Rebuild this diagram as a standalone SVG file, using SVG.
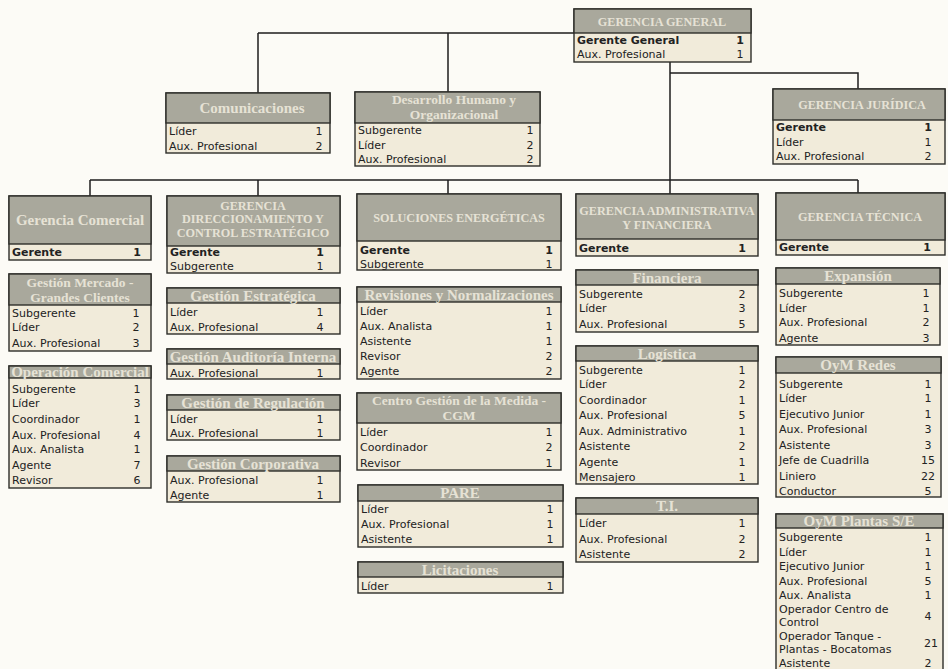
<svg xmlns="http://www.w3.org/2000/svg" width="948" height="669" viewBox="0 0 948 669">
<style>
.bg{fill:#fcfbf6}
.bd{fill:#f1ebda;stroke:#2e2e2a;stroke-width:1.4}
.hd{fill:#a9a89c;stroke:#2e2e2a;stroke-width:1.4}
.ht{font-family:"Liberation Serif",serif;font-weight:bold;font-size:15px;fill:#e6e2d5;text-anchor:middle}
.h2{font-family:"Liberation Serif",serif;font-weight:bold;font-size:13.5px;fill:#e6e2d5;text-anchor:middle}
.hc{font-family:"Liberation Serif",serif;font-weight:bold;font-size:12.2px;fill:#e6e2d5;text-anchor:middle}
.r{font-family:"DejaVu Sans",sans-serif;font-size:11px;fill:#222}
.n{font-family:"DejaVu Sans",sans-serif;font-size:11px;fill:#222;text-anchor:middle}
.b{font-weight:bold}
.c{fill:none;stroke:#1e1e1e;stroke-width:1.5}
</style>
<rect class="bg" x="0" y="0" width="948" height="669"/>
<g id="connectors">
<path class="c" d="M258,33 H574 M258,33 V93 M448,33 V92 M670,62 V180 M670,73 H858 V89 M90,180 H858 M90,180 V196 M258,180 V196 M448,180 V194 M670,180 V194 M858,180 V193"/>
</g>
<g id="gerencia-general">
<rect class="bd" x="574" y="9" width="177" height="53"/>
<rect class="hd" x="574" y="9" width="177" height="24"/>
<text class="hc" x="662" y="26">GERENCIA GENERAL</text>
<text class="r b" x="577" y="44">Gerente General</text><text class="n b" x="740" y="44">1</text>
<text class="r" x="577" y="58">Aux. Profesional</text><text class="n" x="740" y="58">1</text>
</g>
<g id="comunicaciones">
<rect class="bd" x="166" y="93" width="164" height="60"/>
<rect class="hd" x="166" y="93" width="164" height="30"/>
<text class="ht" x="252" y="113">Comunicaciones</text>
<text class="r" x="169" y="135">Líder</text><text class="n" x="319" y="135">1</text>
<text class="r" x="169" y="150">Aux. Profesional</text><text class="n" x="319" y="150">2</text>
</g>
<g id="desarrollo-humano">
<rect class="bd" x="355" y="92" width="185" height="74"/>
<rect class="hd" x="355" y="92" width="185" height="31"/>
<text class="h2" x="454" y="104">Desarrollo Humano y</text>
<text class="h2" x="454" y="119">Organizacional</text>
<text class="r" x="358" y="134">Subgerente</text><text class="n" x="530" y="134">1</text>
<text class="r" x="358" y="149">Líder</text><text class="n" x="530" y="149">2</text>
<text class="r" x="358" y="163">Aux. Profesional</text><text class="n" x="530" y="163">2</text>
</g>
<g id="gerencia-juridica">
<rect class="bd" x="773" y="89" width="172" height="75"/>
<rect class="hd" x="773" y="89" width="172" height="31"/>
<text class="hc" x="862" y="109">GERENCIA JURÍDICA</text>
<text class="r b" x="776" y="131">Gerente</text><text class="n b" x="928" y="131">1</text>
<text class="r" x="776" y="146">Líder</text><text class="n" x="928" y="146">1</text>
<text class="r" x="776" y="160">Aux. Profesional</text><text class="n" x="928" y="160">2</text>
</g>
<g id="gerencia-comercial">
<rect class="bd" x="9" y="196" width="142" height="64"/>
<rect class="hd" x="9" y="196" width="142" height="48"/>
<text class="ht" x="80" y="225">Gerencia Comercial</text>
<text class="r b" x="12" y="256">Gerente</text><text class="n b" x="137" y="256">1</text>
</g>
<g id="gestion-mercado">
<rect class="bd" x="9" y="274" width="142" height="77"/>
<rect class="hd" x="9" y="274" width="142" height="31"/>
<text class="h2" x="80" y="287">Gestión Mercado -</text>
<text class="h2" x="80" y="302">Grandes Clientes</text>
<text class="r" x="12" y="317">Subgerente</text><text class="n" x="136" y="317">1</text>
<text class="r" x="12" y="331">Líder</text><text class="n" x="136" y="331">2</text>
<text class="r" x="12" y="347">Aux. Profesional</text><text class="n" x="136" y="347">3</text>
</g>
<g id="operacion-comercial">
<rect class="bd" x="9" y="366" width="142" height="122"/>
<rect class="hd" x="9" y="366" width="142" height="12"/>
<text class="ht" x="80" y="377">Operación Comercial</text>
<text class="r" x="12" y="393">Subgerente</text><text class="n" x="137" y="393">1</text>
<text class="r" x="12" y="407">Líder</text><text class="n" x="137" y="407">3</text>
<text class="r" x="12" y="423">Coordinador</text><text class="n" x="137" y="423">1</text>
<text class="r" x="12" y="439">Aux. Profesional</text><text class="n" x="137" y="439">4</text>
<text class="r" x="12" y="453">Aux. Analista</text><text class="n" x="137" y="453">1</text>
<text class="r" x="12" y="469">Agente</text><text class="n" x="137" y="469">7</text>
<text class="r" x="12" y="484">Revisor</text><text class="n" x="137" y="484">6</text>
</g>
<g id="gerencia-direccionamiento">
<rect class="bd" x="167" y="196" width="173" height="77"/>
<rect class="hd" x="167" y="196" width="173" height="50"/>
<text class="hc" x="253" y="210">GERENCIA</text>
<text class="hc" x="253" y="223">DIRECCIONAMIENTO Y</text>
<text class="hc" x="253" y="237">CONTROL ESTRATÉGICO</text>
<text class="r b" x="170" y="256">Gerente</text><text class="n b" x="320" y="256">1</text>
<text class="r" x="170" y="270">Subgerente</text><text class="n" x="320" y="270">1</text>
</g>
<g id="gestion-estrategica">
<rect class="bd" x="167" y="288" width="173" height="46"/>
<rect class="hd" x="167" y="288" width="173" height="15"/>
<text class="ht" x="253" y="301">Gestión Estratégica</text>
<text class="r" x="170" y="316">Líder</text><text class="n" x="320" y="316">1</text>
<text class="r" x="170" y="331">Aux. Profesional</text><text class="n" x="320" y="331">4</text>
</g>
<g id="gestion-auditoria">
<rect class="bd" x="167" y="349" width="173" height="30"/>
<rect class="hd" x="167" y="349" width="173" height="15"/>
<text class="ht" x="253" y="362">Gestión Auditoría Interna</text>
<text class="r" x="170" y="377">Aux. Profesional</text><text class="n" x="320" y="377">1</text>
</g>
<g id="gestion-regulacion">
<rect class="bd" x="167" y="395" width="173" height="45"/>
<rect class="hd" x="167" y="395" width="173" height="15"/>
<text class="ht" x="253" y="408">Gestión de Regulación</text>
<text class="r" x="170" y="423">Líder</text><text class="n" x="320" y="423">1</text>
<text class="r" x="170" y="437">Aux. Profesional</text><text class="n" x="320" y="437">1</text>
</g>
<g id="gestion-corporativa">
<rect class="bd" x="167" y="456" width="173" height="46"/>
<rect class="hd" x="167" y="456" width="173" height="15"/>
<text class="ht" x="253" y="469">Gestión Corporativa</text>
<text class="r" x="170" y="484">Aux. Profesional</text><text class="n" x="320" y="484">1</text>
<text class="r" x="170" y="499">Agente</text><text class="n" x="320" y="499">1</text>
</g>
<g id="soluciones-energeticas">
<rect class="bd" x="357" y="194" width="204" height="76"/>
<rect class="hd" x="357" y="194" width="204" height="47"/>
<text class="hc" x="459" y="222">SOLUCIONES ENERGÉTICAS</text>
<text class="r b" x="360" y="254">Gerente</text><text class="n b" x="549" y="254">1</text>
<text class="r" x="360" y="268">Subgerente</text><text class="n" x="549" y="268">1</text>
</g>
<g id="revisiones">
<rect class="bd" x="357" y="287" width="204" height="92"/>
<rect class="hd" x="357" y="287" width="204" height="15"/>
<text class="ht" x="459" y="300">Revisiones y Normalizaciones</text>
<text class="r" x="360" y="315">Líder</text><text class="n" x="549" y="315">1</text>
<text class="r" x="360" y="330">Aux. Analista</text><text class="n" x="549" y="330">1</text>
<text class="r" x="360" y="345">Asistente</text><text class="n" x="549" y="345">1</text>
<text class="r" x="360" y="360">Revisor</text><text class="n" x="549" y="360">2</text>
<text class="r" x="360" y="375">Agente</text><text class="n" x="549" y="375">2</text>
</g>
<g id="cgm">
<rect class="bd" x="357" y="393" width="204" height="77"/>
<rect class="hd" x="357" y="393" width="204" height="30"/>
<text class="h2" x="459" y="405">Centro Gestión de la Medida -</text>
<text class="h2" x="459" y="420">CGM</text>
<text class="r" x="360" y="436">Líder</text><text class="n" x="549" y="436">1</text>
<text class="r" x="360" y="451">Coordinador</text><text class="n" x="549" y="451">2</text>
<text class="r" x="360" y="467">Revisor</text><text class="n" x="549" y="467">1</text>
</g>
<g id="pare">
<rect class="bd" x="358" y="485" width="205" height="62"/>
<rect class="hd" x="358" y="485" width="205" height="16"/>
<text class="ht" x="460" y="498">PARE</text>
<text class="r" x="361" y="513">Líder</text><text class="n" x="550" y="513">1</text>
<text class="r" x="361" y="528">Aux. Profesional</text><text class="n" x="550" y="528">1</text>
<text class="r" x="361" y="543">Asistente</text><text class="n" x="550" y="543">1</text>
</g>
<g id="licitaciones">
<rect class="bd" x="358" y="562" width="205" height="31"/>
<rect class="hd" x="358" y="562" width="205" height="15"/>
<text class="ht" x="460" y="575">Licitaciones</text>
<text class="r" x="361" y="590">Líder</text><text class="n" x="550" y="590">1</text>
</g>
<g id="gerencia-administrativa">
<rect class="bd" x="576" y="194" width="182" height="62"/>
<rect class="hd" x="576" y="194" width="182" height="45"/>
<text class="hc" x="667" y="215">GERENCIA ADMINISTRATIVA</text>
<text class="hc" x="667" y="229">Y FINANCIERA</text>
<text class="r b" x="579" y="252">Gerente</text><text class="n b" x="742" y="252">1</text>
</g>
<g id="financiera">
<rect class="bd" x="576" y="270" width="182" height="62"/>
<rect class="hd" x="576" y="270" width="182" height="15"/>
<text class="ht" x="667" y="283">Financiera</text>
<text class="r" x="579" y="298">Subgerente</text><text class="n" x="742" y="298">2</text>
<text class="r" x="579" y="312">Líder</text><text class="n" x="742" y="312">3</text>
<text class="r" x="579" y="328">Aux. Profesional</text><text class="n" x="742" y="328">5</text>
</g>
<g id="logistica">
<rect class="bd" x="576" y="346" width="182" height="138"/>
<rect class="hd" x="576" y="346" width="182" height="15"/>
<text class="ht" x="667" y="359">Logística</text>
<text class="r" x="579" y="374">Subgerente</text><text class="n" x="742" y="374">1</text>
<text class="r" x="579" y="388">Líder</text><text class="n" x="742" y="388">2</text>
<text class="r" x="579" y="404">Coordinador</text><text class="n" x="742" y="404">1</text>
<text class="r" x="579" y="419">Aux. Profesional</text><text class="n" x="742" y="419">5</text>
<text class="r" x="579" y="435">Aux. Administrativo</text><text class="n" x="742" y="435">1</text>
<text class="r" x="579" y="450">Asistente</text><text class="n" x="742" y="450">2</text>
<text class="r" x="579" y="466">Agente</text><text class="n" x="742" y="466">1</text>
<text class="r" x="579" y="481">Mensajero</text><text class="n" x="742" y="481">1</text>
</g>
<g id="ti">
<rect class="bd" x="576" y="498" width="182" height="64"/>
<rect class="hd" x="576" y="498" width="182" height="16"/>
<text class="ht" x="667" y="511">T.I.</text>
<text class="r" x="579" y="527">Líder</text><text class="n" x="742" y="527">1</text>
<text class="r" x="579" y="543">Aux. Profesional</text><text class="n" x="742" y="543">2</text>
<text class="r" x="579" y="558">Asistente</text><text class="n" x="742" y="558">2</text>
</g>
<g id="gerencia-tecnica">
<rect class="bd" x="776" y="193" width="169" height="62"/>
<rect class="hd" x="776" y="193" width="169" height="47"/>
<text class="hc" x="860" y="221">GERENCIA TÉCNICA</text>
<text class="r b" x="779" y="251">Gerente</text><text class="n b" x="927" y="251">1</text>
</g>
<g id="expansion">
<rect class="bd" x="776" y="268" width="164" height="77"/>
<rect class="hd" x="776" y="268" width="164" height="16"/>
<text class="ht" x="858" y="281">Expansión</text>
<text class="r" x="779" y="297">Subgerente</text><text class="n" x="926" y="297">1</text>
<text class="r" x="779" y="312">Líder</text><text class="n" x="926" y="312">1</text>
<text class="r" x="779" y="326">Aux. Profesional</text><text class="n" x="926" y="326">2</text>
<text class="r" x="779" y="342">Agente</text><text class="n" x="926" y="342">3</text>
</g>
<g id="oym-redes">
<rect class="bd" x="776" y="357" width="165" height="140"/>
<rect class="hd" x="776" y="357" width="165" height="16"/>
<text class="ht" x="858" y="370">OyM Redes</text>
<text class="r" x="779" y="388">Subgerente</text><text class="n" x="928" y="388">1</text>
<text class="r" x="779" y="402">Líder</text><text class="n" x="928" y="402">1</text>
<text class="r" x="779" y="418">Ejecutivo Junior</text><text class="n" x="928" y="418">1</text>
<text class="r" x="779" y="433">Aux. Profesional</text><text class="n" x="928" y="433">3</text>
<text class="r" x="779" y="449">Asistente</text><text class="n" x="928" y="449">3</text>
<text class="r" x="779" y="464">Jefe de Cuadrilla</text><text class="n" x="928" y="464">15</text>
<text class="r" x="779" y="480">Liniero</text><text class="n" x="928" y="480">22</text>
<text class="r" x="779" y="495">Conductor</text><text class="n" x="928" y="495">5</text>
</g>
<g id="oym-plantas">
<rect class="bd" x="776" y="514" width="167" height="156"/>
<rect class="hd" x="776" y="514" width="167" height="14"/>
<text class="ht" x="859" y="526">OyM Plantas S/E</text>
<text class="r" x="779" y="541">Subgerente</text><text class="n" x="928" y="541">1</text>
<text class="r" x="779" y="555.5">Líder</text><text class="n" x="928" y="555.5">1</text>
<text class="r" x="779" y="570">Ejecutivo Junior</text><text class="n" x="928" y="570">1</text>
<text class="r" x="779" y="584.5">Aux. Profesional</text><text class="n" x="928" y="584.5">5</text>
<text class="r" x="779" y="599">Aux. Analista</text><text class="n" x="928" y="599">1</text>
<text class="r" x="779" y="613">Operador Centro de</text>
<text class="r" x="779" y="626">Control</text><text class="n" x="928" y="620">4</text>
<text class="r" x="779" y="640">Operador Tanque -</text>
<text class="r" x="779" y="653">Plantas - Bocatomas</text><text class="n" x="931" y="647">21</text>
<text class="r" x="779" y="666.5">Asistente</text><text class="n" x="928" y="666.5">2</text>
</g>
</svg>
